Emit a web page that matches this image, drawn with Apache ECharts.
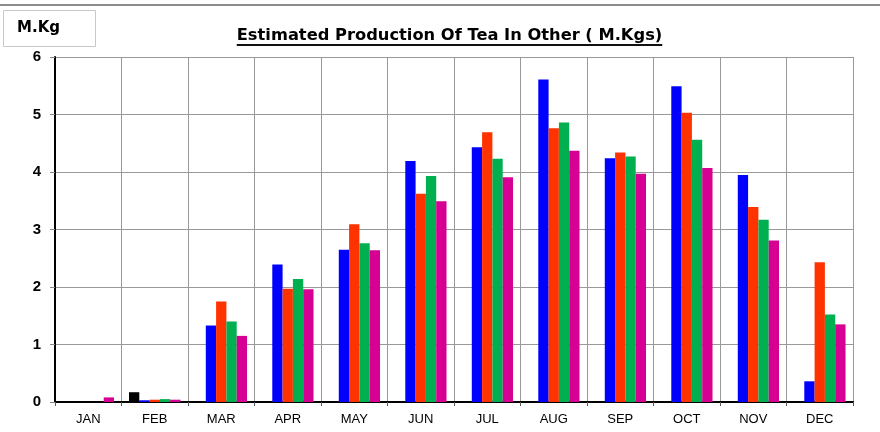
<!DOCTYPE html>
<html>
<head>
<meta charset="utf-8">
<script src="https://cdn.jsdelivr.net/npm/echarts@6/dist/echarts.min.js"></script>
<style>
  html, body { margin: 0; padding: 0; background: #fff; }
  #chart { width: 880px; height: 432px; }
</style>
</head>
<body>
<div id="chart"></div>
<script>
const months = ['JAN', 'FEB', 'MAR', 'APR', 'MAY', 'JUN', 'JUL', 'AUG', 'SEP', 'OCT', 'NOV', 'DEC']
const yTicks = [0, 1, 2, 3, 4, 5, 6]
const seriesNames = ['S1', 'S2', 'S3', 'S4', 'S5']
const s1 = [0, 0.17, 0, 0, 0, 0, 0, 0, 0, 0, 0, 0]
const s2 = [0, 0.03, 1.33, 2.39, 2.65, 4.19, 4.43, 5.61, 4.24, 5.49, 3.95, 0.36]
const s3 = [0, 0.04, 1.75, 1.97, 3.09, 3.62, 4.69, 4.76, 4.34, 5.03, 3.39, 2.43]
const s4 = [0, 0.05, 1.40, 2.14, 2.76, 3.93, 4.23, 4.86, 4.27, 4.56, 3.17, 1.52]
const s5 = [0.08, 0.04, 1.15, 1.96, 2.64, 3.49, 3.91, 4.37, 3.97, 4.07, 2.81, 1.35]
const colors = ['#000000', '#0000ff', '#ff3300', '#00b050', '#d60093']

const titleText = 'Estimated Production Of Tea In Other ( M.Kgs)'
const titleFont = 'bold 16.3px "DejaVu Sans"'

const chart = echarts.init(document.getElementById('chart'))

// width of the title, for the underline
const ctx = document.createElement('canvas').getContext('2d')
ctx.font = titleFont
const tw = ctx.measureText(titleText).width
const cx = 449.5

const option = {
  animation: false,
  grid: { left: 55, right: 27, top: 57, bottom: 30 },
  graphic: [
    { type: 'line', shape: { x1: 0, y1: 5, x2: 880, y2: 5 }, style: { stroke: '#8c8c8c', lineWidth: 2 } },
    { type: 'rect', shape: { x: 3.5, y: 10.5, width: 92, height: 36 }, style: { fill: '#fff', stroke: '#c8c8c8', lineWidth: 1 } },
    { type: 'text', left: 17, top: 21, style: { text: 'M.Kg', font: 'bold 15px "DejaVu Sans"', fill: '#000' } },
    { type: 'text', x: cx, y: 35.5, style: { text: titleText, font: titleFont, fill: '#000', align: 'center', verticalAlign: 'middle' } },
    { type: 'line', shape: { x1: cx - tw / 2, y1: 45, x2: cx + tw / 2, y2: 45 }, style: { stroke: '#111', lineWidth: 2 } }
  ],
  xAxis: {
    type: 'category',
    data: months,
    axisLine: { lineStyle: { color: '#000', width: 2 } },
    axisTick: { show: true, length: 4, lineStyle: { color: '#555' } },
    axisLabel: { color: '#000', fontFamily: 'Liberation Sans', fontSize: 13, margin: 11 },
    splitLine: { show: true, lineStyle: { color: '#999', width: 1 } }
  },
  yAxis: {
    type: 'value',
    min: yTicks[0],
    max: yTicks[yTicks.length - 1],
    interval: 1,
    axisLine: { show: true, lineStyle: { color: '#000', width: 2 } },
    axisTick: { show: true, length: 5, lineStyle: { color: '#888' } },
    axisLabel: { color: '#000', fontFamily: 'Liberation Sans', fontWeight: 'bold', fontSize: 15, margin: 14 },
    splitLine: { lineStyle: { color: '#999', width: 1 } }
  },
  series: [s1, s2, s3, s4, s5].map((d, i) => ({
    name: seriesNames[i],
    type: 'bar',
    data: d,
    barGap: '0%',
    barCategoryGap: '22.5%',
    itemStyle: { color: colors[i] }
  }))
}
chart.setOption(option)
</script>
</body>
</html>
